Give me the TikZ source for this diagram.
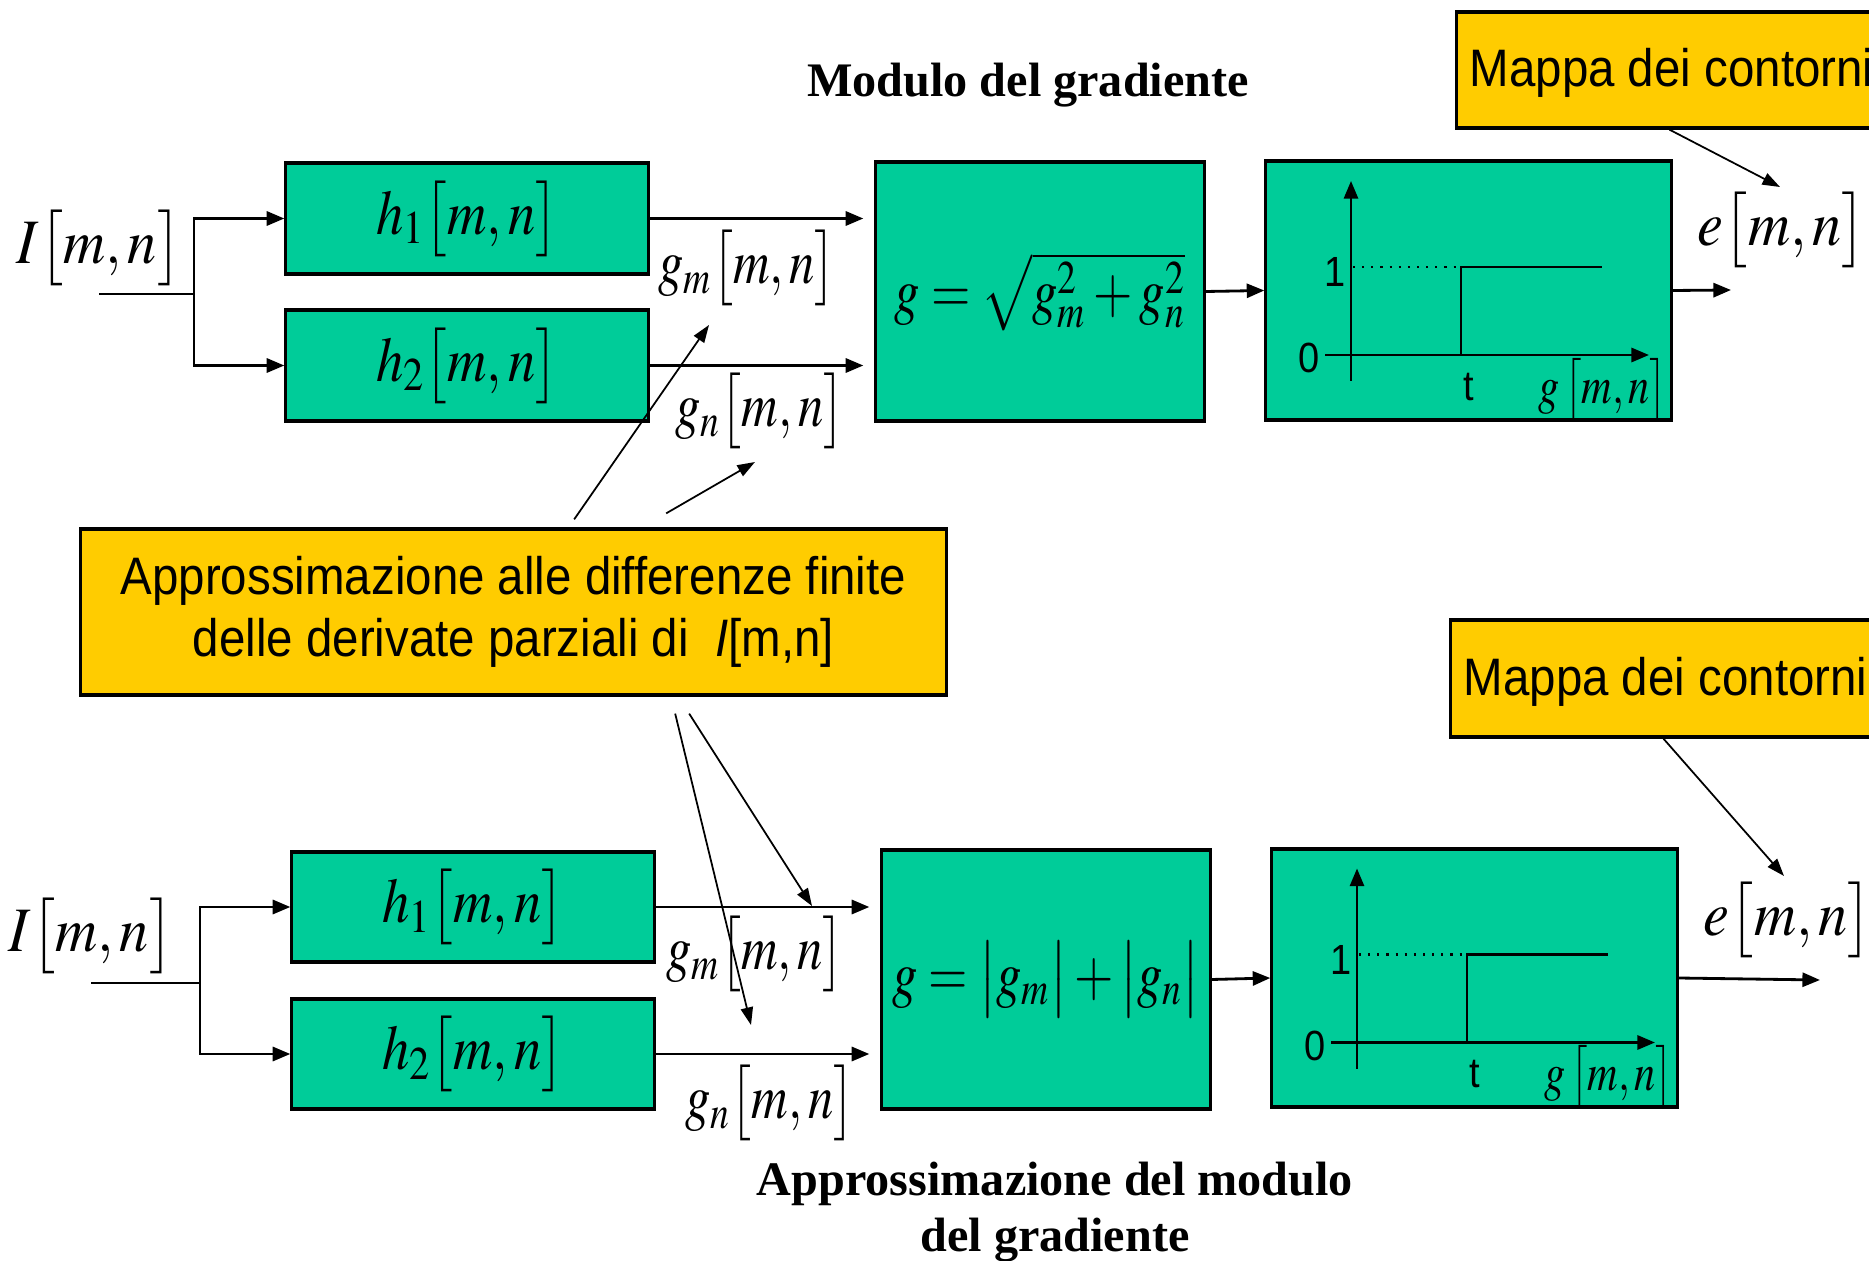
\documentclass[tikz,border=0pt]{standalone}
\usepackage{mathptmx}
\usepackage{fontspec}
\setmainfont{Liberation Serif}
\newfontfamily\notefont[FakeStretch=0.9]{Liberation Sans}
\usepackage{graphicx}
\usetikzlibrary{arrows.meta,positioning,calc}
\definecolor{blockgreen}{HTML}{00CC99}
\definecolor{noteyellow}{HTML}{FFCC00}
\newcommand{\sigmn}[2][0.8]{\scalebox{#1}[1]{$#2\bigl[m,n\bigr]$}}

\begin{document}
\begin{tikzpicture}[x=0.01cm, y=-0.01cm,
  blk/.style={rectangle, draw, line width=0.9pt, fill=blockgreen, inner sep=0pt, font=\fontsize{18}{25}\selectfont},
  note/.style={rectangle, draw, line width=0.9pt, fill=noteyellow, inner sep=0pt, align=center, font=\notefont\fontsize{15}{17.5}\selectfont},
  notetxt/.style={inner sep=0pt, font=\notefont\fontsize{15}{17}\selectfont},
  lbl/.style={inner sep=0pt, font=\fontsize{18}{25}\selectfont},
  ttl/.style={align=center, font=\bfseries\fontsize{13.7}{16}\selectfont},
  ax/.style={inner sep=0pt, font=\notefont\fontsize{12}{14}\selectfont},
  arr/.style={-{Triangle[length=5pt,width=4pt]}, line width=0.8pt},
  ann/.style={-{Triangle[length=5pt,width=3.5pt]}, line width=0.5pt}
]
  \useasboundingbox (0,0) rectangle (1869,1261);
  \clip (0,0) rectangle (1869,1261);

  % modulo del gradiente
  \node[ttl] (tta) at (1028,85) {Modulo del gradiente};
  \node[lbl] (Ia) at (99,248) {\sigmn[0.92]{I}};
  \node[blk, minimum width=3.62cm, minimum height=1.11cm] (h1a) at (467,218.5) {\sigmn[0.86]{h_1}};
  \node[blk, minimum width=3.62cm, minimum height=1.11cm] (h2a) at (467,365.5) {\sigmn[0.86]{h_2}};
  \node[lbl] (gma) at (747,268) {\sigmn{g_m}};
  \node[lbl] (gna) at (760,411) {\sigmn{g_n}};
  \node[blk, minimum width=3.28cm, minimum height=2.59cm] (sqa) at (1040,291.5) {\scalebox{0.8}[1]{$g=\sqrt{g_m^{2}+g_n^{2}}$}};
  \node[blk, minimum width=4.05cm, minimum height=2.59cm] (sta) at (1468.5,290.5) {};
  \node[lbl] (ea) at (1782,230) {\sigmn[0.92]{e}};
  \node[note, minimum width=4.63cm, minimum height=1.16cm] (mapa) at (1688.5,70) {};
  \node[notetxt, anchor=west] (mta) at (1469,73) {Mappa dei contorni};

  \coordinate (ja) at (194,294);
  \coordinate (oa) at (1731,290);
  \draw[line width=0.8pt] (Ia.south |- ja) -- (ja);
  \draw[arr] (ja) |- (h1a.west);
  \draw[arr] (ja) |- (h2a.west);
  \draw[arr, shorten >=0.11cm] (h1a.east) -- (h1a.east -| sqa.west);
  \draw[arr, shorten >=0.11cm] (h2a.east) -- (h2a.east -| sqa.west);
  \draw[arr] (sqa.east) -- (sta.west);
  \draw[arr] (sta.east) -- (oa);
  \draw[ann] ([xshift=2.14cm]mapa.south west) -- (1780,187);

  % approssimazione
  \node[note, minimum width=8.65cm, minimum height=1.66cm] (app) at (513.5,612)
    {Approssimazione alle differenze finite\\delle derivate parziali di\enspace\textit{I}[m,n]};
  \coordinate (pa1) at (709,325);
  \coordinate (pa2) at (755,462);
  \coordinate (pb1) at (751,1025);
  \coordinate (pb2) at (812,906);
  \draw[ann] ([shift={(495,-8)}]app.north west) -- (pa1);
  \draw[ann] ([shift={(587,-14)}]app.north west) -- (pa2);
  \draw[ann] ([shift={(596,17)}]app.south west) -- (pb1);
  \draw[ann] ([shift={(610,17)}]app.south west) -- (pb2);

  % approssimazione del modulo
  \node[ttl] (ttb) at (1055,1212) {Approssimazione del modulo\\del gradiente};
  \node[lbl] (Ib) at (91,936) {\sigmn[0.92]{I}};
  \node[blk, minimum width=3.62cm, minimum height=1.10cm] (h1b) at (473,907) {\sigmn[0.86]{h_1}};
  \node[blk, minimum width=3.62cm, minimum height=1.10cm] (h2b) at (473,1054) {\sigmn[0.86]{h_2}};
  \node[lbl] (gmb) at (755,954) {\sigmn{g_m}};
  \node[lbl] (gnb) at (770,1103) {\sigmn{g_n}};
  \node[blk, minimum width=3.28cm, minimum height=2.59cm] (absb) at (1046,979.5) {\scalebox{0.8}[1]{$g=\bigl|g_m\bigr|+\bigl|g_n\bigr|$}};
  \node[blk, minimum width=4.05cm, minimum height=2.58cm] (stb) at (1474.5,978) {};
  \node[lbl] (eb) at (1788,920) {\sigmn[0.92]{e}};
  \node[note, minimum width=4.69cm, minimum height=1.17cm] (mapb) at (1685.5,678.5) {};
  \node[notetxt, anchor=west] (mtb) at (1463,682) {Mappa dei contorni};

  \coordinate (jb) at (200,983);
  \coordinate (ob) at (1820,980);
  \draw[line width=0.8pt] (Ib.south |- jb) -- (jb);
  \draw[arr] (jb) |- (h1b.west);
  \draw[arr] (jb) |- (h2b.west);
  \draw[arr, shorten >=0.11cm] (h1b.east) -- (h1b.east -| absb.west);
  \draw[arr, shorten >=0.11cm] (h2b.east) -- (h2b.east -| absb.west);
  \draw[arr] (absb.east) -- (stb.west);
  \draw[arr] (stb.east) -- (ob);
  \draw[ann] ([xshift=2.14cm]mapb.south west) -- (1784,876);

  % soglia
  \foreach \s in {sta,stb}{
    \begin{scope}[shift={(\s.center)}]
      \draw[arr, line width=0.7pt] (-117.5,90.5) -- (-117.5,-109.5);
      \draw[arr] (-143.5,64.5) -- (180.5,64.5);
      \draw[dotted, line width=0.6pt] (-115.5,-23.5) -- (-7.5,-23.5);
      \draw[line width=0.8pt] (-7.5,64.5) -- (-7.5,-23.5) -- (133.5,-23.5);
      \node[ax] at (-159.5,67.5) {0};
      \node[ax] at (-133.5,-18.5) {1};
      \node[ax] at (0.5,96.5) {t};
      \node[lbl, font=\fontsize{15}{18}\selectfont] at (134.5,99.5) {\scalebox{0.8}[1]{$g\,\bigl[m,n\bigr]$}};
    \end{scope}
  }
\end{tikzpicture}
\end{document}
